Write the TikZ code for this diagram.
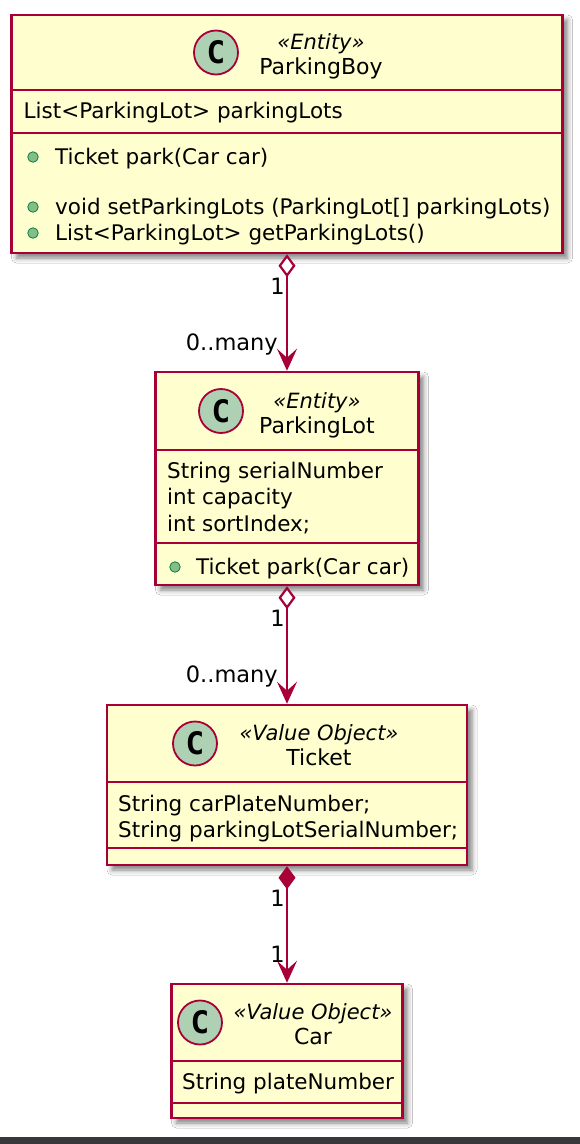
\documentclass[tikz,border=0pt]{standalone}
\usepackage{fontspec}
\setmainfont{DejaVu Sans}[ItalicFont={DejaVu Sans Oblique},BoldFont={DejaVu Sans Bold}]
\newfontfamily\cfont{DejaVu Sans Mono Bold}
\usetikzlibrary{arrows.meta,shadows.blur}
\definecolor{boxfill}{HTML}{FEFECE}
\definecolor{umlred}{HTML}{A80036}
\definecolor{circfill}{HTML}{ADD1B2}
\definecolor{bulletfill}{HTML}{84BE84}
\definecolor{bulletdraw}{HTML}{038048}
\definecolor{barcol}{HTML}{38383A}
\tikzset{
  umlbox/.style={draw=umlred, line width=2.5pt, fill=boxfill, rectangle, inner sep=0pt,
    blur shadow={shadow xshift=5pt, shadow yshift=-5pt, shadow blur radius=5pt, shadow opacity=50}},
  sepline/.style={draw=umlred, line width=2.3pt},
  cmark/.style={circle, draw=umlred, line width=1.8pt, fill=circfill, minimum size=44pt, inner sep=0pt,
    font=\cfont\fontsize{31}{31}\selectfont},
  txt/.style={anchor=base west, inner sep=0pt, font=\fontsize{21.5}{26.5}\selectfont},
  stereo/.style={anchor=base, inner sep=0pt, font=\itshape\fontsize{21}{24}\selectfont},
  cname/.style={anchor=base, inner sep=0pt, font=\fontsize{22}{26.5}\selectfont},
  bul/.style={circle, draw=bulletdraw, fill=bulletfill, line width=0.8pt, minimum size=10.5pt, inner sep=0pt},
  lbl/.style={anchor=base east, inner sep=0pt, font=\fontsize{22.5}{26}\selectfont},
  assoc/.style={draw=umlred, line width=2.2pt},
}
\begin{document}
\begin{tikzpicture}[x=1pt,y=-1pt]
\useasboundingbox (0,0) rectangle (580,1144);
\fill[white] (0,0) rectangle (580,1144);
\fill[barcol] (0,1137) rectangle (580,1144);

% ---------- ParkingBoy ----------
\node[umlbox, minimum width=551pt, minimum height=238pt] (pb) at (287,134) {};
\coordinate (pbs1) at (0,90);
\coordinate (pbs2) at (0,133);
\draw[sepline] (pb.west |- pbs1) -- (pb.east |- pbs1);
\draw[sepline] (pb.west |- pbs2) -- (pb.east |- pbs2);
\node[cmark] (pbc) at (216,52.5) {C};
\node[stereo] (pbst) at (321,49.5) {«Entity»};
\node[cname] (pbn) at (321,74.5) {ParkingBoy};
\node[txt] (pba1) at (23.5,118) {List<ParkingLot> parkingLots};
\node[bul] (pbb1) at (33,157) {};
\node[txt] (pbm1) at (55,164) {Ticket park(Car car)};
\node[bul] (pbb2) at (33,207) {};
\node[txt] (pbm2) at (55,214) {void setParkingLots (ParkingLot[] parkingLots)};
\node[bul] (pbb3) at (33,233) {};
\node[txt] (pbm3) at (55,240) {List<ParkingLot> getParkingLots()};

% ---------- ParkingLot ----------
\node[umlbox, minimum width=263pt, minimum height=213pt] (pl) at (287,478.5) {};
\coordinate (pls1) at (0,450);
\coordinate (pls2) at (0,543);
\draw[sepline] (pl.west |- pls1) -- (pl.east |- pls1);
\draw[sepline] (pl.west |- pls2) -- (pl.east |- pls2);
\node[cmark] (plc) at (221,411) {C};
\node[stereo] (plst) at (317,408) {«Entity»};
\node[cname] (pln) at (317,433) {ParkingLot};
\node[txt] (pla1) at (167,478) {String serialNumber};
\node[txt] (pla2) at (167,504.5) {int capacity};
\node[txt] (pla3) at (167,531) {int sortIndex;};
\node[bul] (plb1) at (175,567) {};
\node[txt] (plm1) at (196,574) {Ticket park(Car car)};

% ---------- Ticket ----------
\node[umlbox, minimum width=360pt, minimum height=160pt] (tk) at (287,785) {};
\coordinate (tks1) at (0,782);
\coordinate (tks2) at (0,848);
\draw[sepline] (tk.west |- tks1) -- (tk.east |- tks1);
\draw[sepline] (tk.west |- tks2) -- (tk.east |- tks2);
\node[cmark] (tkc) at (195,743.5) {C};
\node[stereo] (tkst) at (319,740.5) {«Value Object»};
\node[cname] (tkn) at (319,765.5) {Ticket};
\node[txt] (tka1) at (118,811) {String carPlateNumber;};
\node[txt] (tka2) at (118,837) {String parkingLotSerialNumber;};

% ---------- Car ----------
\node[umlbox, minimum width=231pt, minimum height=134pt] (car) at (287,1051) {};
\coordinate (cars1) at (0,1061);
\coordinate (cars2) at (0,1103);
\draw[sepline] (car.west |- cars1) -- (car.east |- cars1);
\draw[sepline] (car.west |- cars2) -- (car.east |- cars2);
\node[cmark] (carc) at (200,1022.5) {C};
\node[stereo] (carst) at (313,1019.5) {«Value Object»};
\node[cname] (carn) at (313,1044.5) {Car};
\node[txt] (cara1) at (182,1089) {String plateNumber};

% ---------- connectors ----------
\draw[assoc, {Diamond[length=23pt,width=17pt,fill=white]}-{Stealth[length=22pt,width=20pt,inset=9pt]}] (pb.south) -- (pl.north);
\draw[assoc, {Diamond[length=23pt,width=17pt,fill=white]}-{Stealth[length=22pt,width=20pt,inset=9pt]}] (pl.south) -- (tk.north);
\draw[assoc, {Diamond[length=23pt,width=17pt]}-{Stealth[length=22pt,width=20pt,inset=9pt]}] (tk.south) -- (car.north);

\node[lbl] (l1a) at (285,294) {1};
\node[lbl] (l1b) at (278,350) {0..many};
\node[lbl] (l2a) at (285,626) {1};
\node[lbl] (l2b) at (278,682) {0..many};
\node[lbl] (l3a) at (285,906) {1};
\node[lbl] (l3b) at (285,962) {1};
\end{tikzpicture}
\end{document}
